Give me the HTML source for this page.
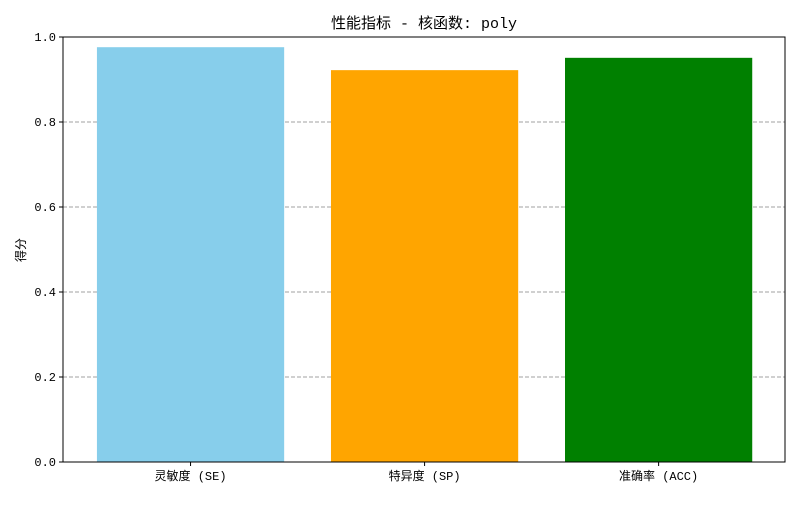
<!DOCTYPE html>
<html><head><meta charset="utf-8"><style>
body{margin:0;background:#fff;}
svg text{font-family:"Liberation Mono","Noto Sans CJK SC",monospace;fill:#000;}
</style></head><body>
<svg id="chart" width="800" height="500">
<rect width="800" height="500" fill="#fff"/>
<text x="424" y="28" font-size="15" text-anchor="middle">性能指标 - 核函数: poly</text>
<text transform="translate(25,250) rotate(-90)" font-size="12" text-anchor="middle">得分</text>
<g id="grid"></g><g id="bars"></g><g id="ticks"></g>
<rect x="63" y="37" width="722" height="425" fill="none" stroke="#000" stroke-width="1"/>
</svg>
<script>
const categories=["灵敏度 (SE)","特异度 (SP)","准确率 (ACC)"];
const values=[0.976,0.922,0.951];
const colors=["#87ceeb","#ffa500","#008000"];
const yTicks=[0,0.2,0.4,0.6,0.8,1.0];
const yTickLabels=["0.0","0.2","0.4","0.6","0.8","1.0"];
const L=63,R=785,T=37,B=462,xmin=-0.545,xmax=2.54;
const ns="http://www.w3.org/2000/svg";
const x=v=>L+(v-xmin)/(xmax-xmin)*(R-L);
const y=v=>B-v*(B-T);
function mk(tag,attrs,parent){const e=document.createElementNS(ns,tag);for(const k in attrs)e.setAttribute(k,attrs[k]);document.getElementById(parent).appendChild(e);return e;}
yTicks.forEach((t,i)=>{
  if(t>0&&t<1){const g=mk("line",{x1:L,x2:R,y1:y(t),y2:y(t),stroke:"#a0a0a0","stroke-dasharray":"4,2","stroke-width":1},"grid");
  
  }
  const tk=mk("line",{x1:L-4,x2:L,y1:y(t),y2:y(t),stroke:"#000"},"ticks");
  
  
  const tl=mk("text",{x:L-7,y:y(t)+4,"font-size":12,"text-anchor":"end"},"ticks");tl.textContent=yTickLabels[i];
  
  
});
categories.forEach((c,i)=>{
  const b=mk("rect",{x:x(i-0.4),y:y(values[i]),width:x(i+0.4)-x(i-0.4),height:B-y(values[i]),fill:colors[i]},"bars");
  
  
  const tk=mk("line",{x1:x(i),x2:x(i),y1:B,y2:B+4,stroke:"#000"},"ticks");
  
  
  const tl=mk("text",{x:x(i),y:B+18,"font-size":12,"text-anchor":"middle"},"ticks");tl.textContent=c;
  
  
});
</script>
</body></html>
